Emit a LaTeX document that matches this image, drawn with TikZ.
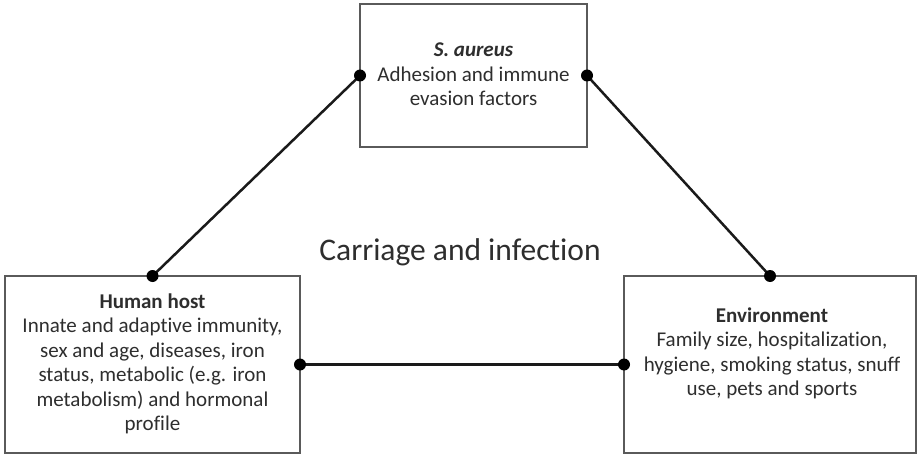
\documentclass[tikz,border=0pt]{standalone}
\usepackage{fontspec}
\setmainfont{Carlito}[Ligatures=NoCommon]
\definecolor{boxgray}{HTML}{5A5A5A}
\definecolor{linecol}{HTML}{1A1A1A}
\definecolor{txt}{HTML}{2E2E2E}
\begin{document}
\begin{tikzpicture}[x=1pt,y=-1pt,
  box/.style={draw=boxgray, line width=2pt, inner sep=0pt, outer sep=0pt},
  body/.style={font=\fontsize{21}{24.5}\selectfont, align=center, text=txt, inner sep=0pt, anchor=base},
  link/.style={draw=linecol, line width=2.5pt},
  dot/.style={fill=black}]
\useasboundingbox (0,0) rectangle (917,457);
\fill[white] (0,0) rectangle (917,457);
\node[box, minimum width=227pt, minimum height=143pt] (aureus) at (473.5,75.5) {};
\node[box, minimum width=295pt, minimum height=177pt] (host) at (152.5,364.5) {};
\node[box, minimum width=292pt, minimum height=177pt] (env) at (770,364.5) {};
\node[body] (aureustext) at (473.5,106) {\textbf{\textit{S. aureus}}\\Adhesion and immune\\evasion factors};
\node[body] (hosttext) at (152.5,430.5) {\textbf{Human host}\\Innate and adaptive immunity,\\sex and age, diseases, iron\\status, metabolic (e.g. iron\\metabolism) and hormonal\\profile};
\node[body] (envtext) at (772,395.5) {\textbf{Environment}\\Family size, hospitalization,\\hygiene, smoking status, snuff\\use, pets and sports};
\node[font=\fontsize{31.5}{36}\selectfont, text=txt, anchor=base, inner sep=0pt] (title) at (460,260) {Carriage and infection};
\draw[link] (aureus.west) -- (host.north);
\draw[link] (aureus.east) -- (env.north);
\draw[link] (host.east) -- (env.west);
\foreach \p in {aureus.west, aureus.east, host.north, env.north, host.east, env.west}
  \fill[dot] (\p) circle (6pt);
\end{tikzpicture}
\end{document}
